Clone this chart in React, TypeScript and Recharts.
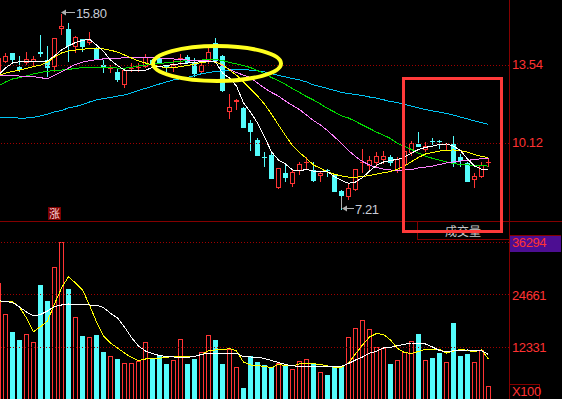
import { ComposedChart, Bar, Line, XAxis, YAxis, ReferenceLine } from 'recharts'

const UP = '#ff3434'
const DOWN = '#54fcfc'
const GRID = '#a00000'
const FRAME = '#840000'

// panel scales
const PRICE_MIN = 6.713
const PRICE_MAX = 16.403
const VOL_MAX = 36992
const PRICE_H = 221
const VOL_TOP = 242
const VOL_H = 158

const priceGrid = [13.54, 10.12]
const priceLabels = ['13.54', '10.12']
const volGrid = [36992, 24661, 12331]
const volLabels = ['36294', '24661', '12331']

// daily candles, oldest first
const openP = [13.19, 13.70, 14.09, 13.48, 13.65, 13.70, 14.14, 13.77, 13.48, 15.12, 15.13, 14.36, 14.68, 14.50, 14.31, 13.55, 13.38, 13.26, 12.68, 13.36, 13.42, 13.48, 13.77, 13.87, 13.50, 13.43, 13.82, 13.92, 13.65, 13.26, 13.74, 14.53, 13.95, 11.51, 11.92, 11.68, 11.02, 10.27, 9.54, 9.61, 8.15, 8.80, 8.35, 8.89, 9.26, 8.95, 8.69, 8.93, 8.73, 8.04, 7.78, 8.07, 9.24, 9.14, 9.24, 9.39, 9.52, 8.90, 9.17, 9.68, 10.09, 9.83, 10.20, 10.21, 10.07, 10.09, 9.53, 9.27, 8.51, 8.65, 9.29]
const highP = [13.99, 14.08, 14.10, 13.95, 14.14, 13.95, 14.87, 14.39, 14.72, 15.80, 15.38, 14.82, 14.69, 15.00, 14.36, 13.77, 13.55, 13.41, 13.33, 13.63, 13.64, 14.04, 13.82, 13.99, 13.55, 13.77, 14.04, 13.99, 13.85, 13.73, 14.29, 14.72, 13.99, 12.28, 12.05, 11.71, 11.14, 10.35, 9.75, 9.69, 9.02, 9.21, 8.99, 9.30, 9.52, 9.30, 8.92, 8.99, 8.77, 8.07, 8.37, 8.99, 9.86, 9.56, 9.75, 9.78, 9.61, 9.54, 9.96, 10.23, 10.63, 10.19, 10.34, 10.27, 10.15, 10.44, 9.65, 9.30, 8.80, 9.31, 9.42]
const lowP = [13.11, 13.64, 13.68, 13.26, 13.55, 13.51, 13.92, 13.04, 13.26, 14.87, 13.70, 14.09, 14.14, 14.43, 13.77, 13.19, 13.22, 12.82, 12.56, 13.26, 13.25, 13.41, 13.51, 13.62, 13.26, 13.26, 13.55, 13.60, 13.04, 13.16, 13.60, 13.63, 12.38, 11.18, 11.58, 10.79, 9.80, 9.56, 9.09, 8.55, 8.12, 8.44, 8.22, 8.73, 8.95, 8.44, 8.44, 8.65, 7.98, 7.21, 7.62, 8.03, 8.80, 8.87, 9.09, 9.21, 9.12, 8.83, 8.95, 9.56, 9.96, 9.75, 10.05, 9.86, 9.83, 9.09, 9.09, 8.42, 8.17, 8.59, 9.09]
const closeP = [13.87, 13.95, 13.77, 13.33, 13.80, 13.80, 14.04, 13.41, 14.72, 15.26, 14.40, 14.77, 14.36, 14.65, 13.80, 13.48, 13.42, 12.90, 13.33, 13.42, 13.47, 13.89, 13.55, 13.65, 13.47, 13.55, 13.85, 13.63, 13.16, 13.55, 14.14, 13.74, 12.43, 11.72, 12.02, 10.80, 10.63, 9.58, 9.52, 8.57, 9.02, 8.62, 8.86, 9.21, 9.29, 8.48, 8.83, 8.90, 8.00, 7.81, 8.17, 8.99, 9.31, 9.39, 9.56, 9.56, 9.24, 9.42, 9.78, 10.12, 9.97, 10.00, 10.18, 10.18, 10.10, 9.27, 9.34, 8.44, 8.69, 9.17, 9.32]

// moving averages as drawn
const ma5 = [13.11, 13.42, 13.64, 13.70, 13.70, 13.70, 13.70, 13.73, 13.95, 14.21, 14.39, 14.54, 14.63, 14.68, 14.43, 14.15, 13.77, 13.53, 13.33, 13.30, 13.31, 13.33, 13.44, 13.49, 13.53, 13.57, 13.61, 13.64, 13.67, 13.70, 13.72, 13.69, 13.20, 12.98, 12.63, 11.89, 11.49, 11.01, 10.40, 9.74, 9.39, 9.21, 8.95, 8.92, 8.97, 8.90, 8.88, 8.88, 8.66, 8.49, 8.37, 8.42, 8.62, 8.90, 9.15, 9.30, 9.37, 9.41, 9.52, 9.69, 9.85, 9.94, 10.00, 10.07, 10.09, 10.00, 9.80, 9.43, 9.12, 8.99, 8.97]
const ma10 = [13.09, 13.20, 13.27, 13.33, 13.40, 13.48, 13.55, 13.68, 13.90, 14.08, 14.17, 14.21, 14.24, 14.28, 14.29, 14.26, 14.20, 14.12, 13.99, 13.86, 13.73, 13.64, 13.55, 13.49, 13.42, 13.43, 13.49, 13.53, 13.60, 13.66, 13.70, 13.68, 13.57, 13.33, 13.11, 12.81, 12.50, 12.19, 11.84, 11.40, 10.92, 10.46, 10.02, 9.72, 9.45, 9.17, 9.02, 8.86, 8.76, 8.69, 8.64, 8.63, 8.66, 8.71, 8.77, 8.83, 8.88, 8.99, 9.12, 9.32, 9.50, 9.65, 9.72, 9.78, 9.81, 9.83, 9.80, 9.73, 9.63, 9.54, 9.50]
const ma20 = [13.11, 13.10, 13.08, 13.07, 13.06, 13.04, 13.00, 12.94, 13.11, 13.25, 13.42, 13.58, 13.68, 13.74, 13.79, 13.82, 13.84, 13.85, 13.87, 13.89, 13.89, 13.89, 13.88, 13.86, 13.84, 13.82, 13.79, 13.77, 13.76, 13.74, 13.73, 13.71, 13.53, 13.36, 13.22, 13.11, 13.00, 12.76, 12.54, 12.35, 12.19, 11.97, 11.78, 11.60, 11.36, 11.12, 10.92, 10.68, 10.40, 10.11, 9.80, 9.54, 9.32, 9.17, 9.06, 8.99, 8.95, 8.93, 8.95, 8.97, 9.04, 9.08, 9.12, 9.19, 9.26, 9.30, 9.34, 9.37, 9.41, 9.44, 9.46]
const ma30 = [12.63, 12.81, 12.94, 13.00, 13.07, 13.16, 13.23, 13.28, 13.31, 13.33, 13.36, 13.40, 13.44, 13.45, 13.45, 13.45, 13.44, 13.42, 13.41, 13.45, 13.51, 13.55, 13.58, 13.62, 13.65, 13.68, 13.72, 13.74, 13.75, 13.77, 13.79, 13.79, 13.75, 13.67, 13.60, 13.53, 13.44, 13.31, 13.18, 13.00, 12.87, 12.70, 12.52, 12.35, 12.17, 12.02, 11.84, 11.65, 11.49, 11.32, 11.23, 11.08, 10.92, 10.77, 10.61, 10.48, 10.33, 10.11, 9.98, 9.85, 9.69, 9.56, 9.46, 9.38, 9.31, 9.23, 9.19, 9.17, 9.16, 9.14, 9.12]
const ma60 = [11.26, 11.26, 11.26, 11.22, 11.23, 11.26, 11.32, 11.40, 11.50, 11.56, 11.67, 11.73, 11.82, 11.93, 12.02, 12.08, 12.13, 12.19, 12.24, 12.33, 12.44, 12.53, 12.62, 12.72, 12.81, 12.90, 12.95, 13.01, 13.09, 13.17, 13.22, 13.27, 13.30, 13.33, 13.36, 13.35, 13.33, 13.29, 13.25, 13.18, 13.09, 13.03, 12.96, 12.90, 12.81, 12.68, 12.61, 12.52, 12.44, 12.35, 12.30, 12.26, 12.22, 12.15, 12.10, 12.03, 11.95, 11.91, 11.82, 11.75, 11.67, 11.60, 11.54, 11.49, 11.43, 11.36, 11.27, 11.19, 11.10, 11.03, 10.95]

// volume (x100 shares)
const volume = [27463, 20135, 15991, 14118, 15453, 13580, 26995, 23249, 31139, 36900, 25988, 19433, 15055, 14750, 15289, 11308, 10302, 9670, 8663, 8663, 9201, 13580, 9833, 10302, 8499, 9365, 14282, 8499, 9670, 11238, 15218, 14118, 8499, 12011, 7797, 2880, 10372, 8967, 8124, 7797, 8733, 8265, 7328, 9131, 9599, 8593, 6556, 5924, 7797, 7797, 14750, 16857, 18730, 16623, 12409, 12245, 8499, 9435, 11238, 13814, 15523, 9365, 9904, 11074, 8897, 18028, 10372, 10840, 8897, 11636, 3348]
const volMa5 = [23249, 23062, 22828, 21774, 20603, 19667, 20018, 20838, 21891, 22242, 22476, 22406, 22313, 22242, 22172, 21657, 20299, 19199, 17091, 14633, 12643, 11472, 10840, 10419, 10161, 10068, 10021, 9997, 10231, 10653, 10934, 10934, 10770, 10887, 10934, 10138, 10068, 9997, 9716, 9248, 8780, 8312, 8031, 7820, 7843, 7914, 7960, 7914, 7843, 7890, 8546, 9365, 10068, 10957, 11402, 12175, 12339, 12713, 13041, 13345, 13345, 13111, 12409, 11589, 11238, 11543, 11636, 11707, 11636, 11519, 10653]
const volMa10 = [23179, 23132, 23015, 21774, 19199, 15991, 17162, 18496, 22476, 26223, 28868, 27393, 25754, 22242, 18262, 14984, 13345, 12175, 11004, 9951, 9201, 9599, 9763, 9763, 10021, 10138, 10138, 10114, 10185, 10606, 11589, 11707, 11707, 12058, 11472, 8897, 8195, 8077, 7843, 7609, 8312, 8077, 8007, 8429, 8593, 8476, 8312, 7960, 7656, 7656, 8663, 10770, 12877, 14750, 15570, 15336, 14048, 12105, 11074, 10934, 11355, 11870, 11870, 11824, 11004, 11472, 11870, 11589, 11309, 11707, 9599]

const rows = openP.map((o, i) => ({
  k: i,
  open: o,
  high: highP[i],
  low: lowP[i],
  close: closeP[i],
  range: [lowP[i], highP[i]],
  up: closeP[i] >= o,
  ma5: ma5[i],
  ma10: ma10[i],
  ma20: ma20[i],
  ma30: ma30[i],
  ma60: ma60[i],
  vol: volume[i],
  vma5: volMa5[i],
  vma10: volMa10[i],
}))

const priceY = (p: number) => ((PRICE_MAX - p) / (PRICE_MAX - PRICE_MIN)) * PRICE_H
const volY = (v: number) => VOL_TOP + VOL_H - (v / VOL_MAX) * VOL_H

function Candle(props: any) {
  const { x, y, height, payload } = props
  const { open, close, high, low, up } = payload
  const k = height / (high - low)
  const yo = y + (high - open) * k
  const yc = y + (high - close) * k
  const top = Math.round(Math.min(yo, yc))
  const bot = Math.round(Math.max(yo, yc))
  const left = Math.round(x)
  const yH = Math.round(y)
  const yL = Math.round(y + height)
  const color = up ? UP : DOWN
  if (bot - top <= 1) {
    return (
      <g>
        <rect x={left + 2} y={yH} width={1} height={Math.max(yL - yH, 1)} fill={color} />
        <rect x={left} y={top} width={5} height={1} fill={color} />
      </g>
    )
  }
  if (up) {
    return (
      <g>
        <rect x={left + 2} y={yH} width={1} height={Math.max(top - yH, 0)} fill={color} />
        <rect x={left + 2} y={bot} width={1} height={Math.max(yL - bot, 0)} fill={color} />
        <rect x={left + 0.5} y={top + 0.5} width={4} height={bot - top - 1} fill="#000" stroke={color} />
      </g>
    )
  }
  return (
    <g>
      <rect x={left + 2} y={yH} width={1} height={Math.max(yL - yH, 1)} fill={color} />
      <rect x={left} y={top} width={5} height={bot - top} fill={color} />
    </g>
  )
}

function VolBar(props: any) {
  const { x, y, height, payload } = props
  const left = Math.round(x)
  const top = Math.round(y)
  if (payload.up) {
    return <rect x={left + 0.5} y={top + 0.5} width={4} height={Math.max(height, 1)} fill="none" stroke={UP} />
  }
  return <rect x={left} y={top} width={5} height={Math.max(height, 1)} fill={DOWN} />
}

const labelFont = '13px "Liberation Sans", Arial, sans-serif'

function RightLabel({ top, text }: { top: number; text: string }) {
  return (
    <div style={{ position: 'absolute', left: 512, top: top - 7, font: labelFont, lineHeight: '14px', color: '#ff3232', letterSpacing: -0.4 }}>
      {text}
    </div>
  )
}

const crisp = { shapeRendering: 'crispEdges' } as const

export default function App() {
  return (
    <div style={{ position: 'fixed', left: 0, top: 0, width: 562, height: 399, background: '#000', overflow: 'hidden' }}>
      <div style={{ position: 'absolute', left: -5, top: 0 }}>
        <ComposedChart width={514} height={PRICE_H} data={rows} margin={{ top: 0, right: 0, bottom: 0, left: 0 }} style={crisp}>
          <XAxis dataKey="k" hide padding={{ left: 0, right: 17 }} />
          <YAxis hide domain={[PRICE_MIN, PRICE_MAX]} allowDataOverflow />
          {priceGrid.map(p => (
            <ReferenceLine key={p} y={p} stroke={GRID} strokeDasharray="1 2" />
          ))}
          <Bar dataKey="range" barSize={5} shape={<Candle />} isAnimationActive={false} />
          <Line dataKey="ma60" stroke="#00c4f4" dot={false} strokeWidth={1} isAnimationActive={false} />
          <Line dataKey="ma30" stroke="#00dc00" dot={false} strokeWidth={1} isAnimationActive={false} />
          <Line dataKey="ma20" stroke="#ff80ff" dot={false} strokeWidth={1} isAnimationActive={false} />
          <Line dataKey="ma10" stroke="#ffff00" dot={false} strokeWidth={1} isAnimationActive={false} />
          <Line dataKey="ma5" stroke="#ffffff" dot={false} strokeWidth={1} isAnimationActive={false} />
        </ComposedChart>
      </div>

      <div style={{ position: 'absolute', left: -5, top: VOL_TOP - 10 }}>
        <ComposedChart width={514} height={VOL_H + 10} data={rows} margin={{ top: 10, right: 0, bottom: 0, left: 0 }} style={crisp}>
          <XAxis dataKey="k" hide padding={{ left: 0, right: 17 }} />
          <YAxis hide domain={[0, VOL_MAX]} allowDataOverflow />
          {volGrid.map(v => (
            <ReferenceLine key={v} y={v} stroke={GRID} strokeDasharray="1 2" />
          ))}
          <Bar dataKey="vol" barSize={5} shape={<VolBar />} isAnimationActive={false} />
          <Line dataKey="vma10" stroke="#ffff00" dot={false} strokeWidth={1} isAnimationActive={false} />
          <Line dataKey="vma5" stroke="#ffffff" dot={false} strokeWidth={1} isAnimationActive={false} />
        </ComposedChart>
      </div>

      {/* frame */}
      <div style={{ position: 'absolute', left: 509, top: 0, width: 1, height: 399, background: FRAME }} />
      <div style={{ position: 'absolute', left: 0, top: 221, width: 562, height: 1, background: FRAME }} />
      <div style={{ position: 'absolute', left: 417, top: 221, width: 91, height: 18, borderLeft: `1px solid ${FRAME}`, borderBottom: `1px solid ${FRAME}` }} />
      <div style={{ position: 'absolute', left: 445, top: 224, font: '12px "Noto Sans CJK SC", sans-serif', color: '#c8c8c8', lineHeight: '14px' }}>成交量</div>
      <div style={{ position: 'absolute', left: 48, top: 207, width: 13, height: 13, background: '#7c0000', color: '#ffd8d8', font: '11px "Noto Sans CJK SC", sans-serif', lineHeight: '13px', textAlign: 'center' }}>涨</div>

      {/* axis labels */}
      {priceGrid.map((p, i) => (
        <RightLabel key={p} top={priceY(p)} text={priceLabels[i]} />
      ))}
      <div style={{ position: 'absolute', left: 510, top: 235, width: 51, height: 16, background: '#4c0e92', borderTop: `1px solid ${FRAME}` }} />
      {volGrid.map((v, i) => (
        <RightLabel key={v} top={volY(v) + 1} text={volLabels[i]} />
      ))}
      <div style={{ position: 'absolute', left: 509, top: 384, width: 29, height: 15, border: `1px solid ${FRAME}`, borderBottom: 'none' }} />
      <div style={{ position: 'absolute', left: 512, top: 385, font: labelFont, lineHeight: '14px', color: '#ff3232', letterSpacing: -0.4 }}>X100</div>

      {/* high / low markers and annotations */}
      <svg width={562} height={399} style={{ position: 'absolute', left: 0, top: 0 }}>
        <line x1={64} y1={12.5} x2={75} y2={12.5} stroke="#b0b0b0" />
        <polygon points="61,12.5 66,9.5 66,15.5" fill="#b0b0b0" />
        <text x={76} y={17.5} fill="#c8ccd6" style={{ font: labelFont, letterSpacing: -0.4 }}>15.80</text>
        <line x1={341.5} y1={197} x2={341.5} y2={208.5} stroke="#b0b0b0" />
        <line x1={344} y1={208.5} x2={354} y2={208.5} stroke="#b0b0b0" />
        <polygon points="342,208.5 347,205.5 347,211.5" fill="#b0b0b0" />
        <text x={355} y={213.5} fill="#c8ccd6" style={{ font: labelFont, letterSpacing: -0.4 }}>7.21</text>
        <ellipse cx={217} cy={63.5} rx={64} ry={17.5} fill="none" stroke="#ffff1e" strokeWidth={4} />
        <rect x={403.5} y={78.5} width={98} height={153} fill="none" stroke="#ff3a3a" strokeWidth={3} />
      </svg>
    </div>
  )
}
